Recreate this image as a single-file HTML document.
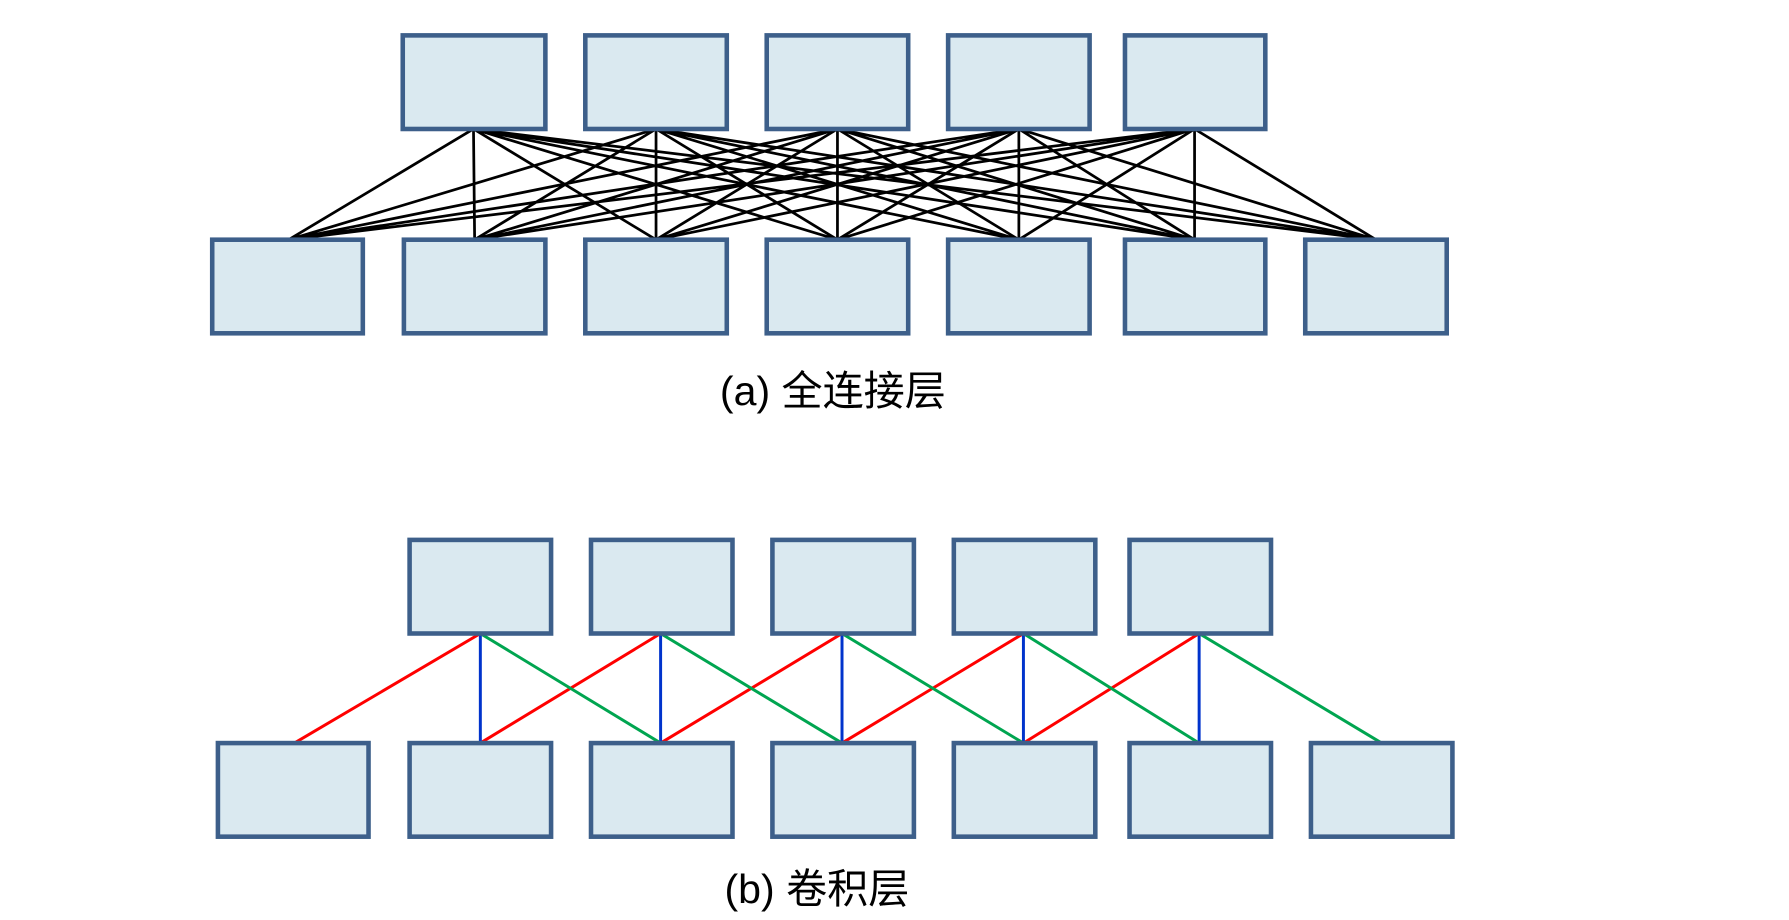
<!DOCTYPE html>
<html><head><meta charset="utf-8"><style>html,body{margin:0;padding:0;background:#fff}svg{display:block}</style></head>
<body>
<svg width="1789" height="920" viewBox="0 0 1568 806" preserveAspectRatio="none" xmlns="http://www.w3.org/2000/svg">
<g stroke="#000" stroke-width="2.4" fill="none">
<!-- full connections -->
<g id="fc">
</g>
</g>
<g stroke="#000" stroke-width="2.4">
<path d="M415 113L253 210M415 113L416 210M415 113L575 210M415 113L734 210M415 113L893 210M415 113L1047 210M415 113L1206 210
M575 113L253 210M575 113L416 210M575 113L575 210M575 113L734 210M575 113L893 210M575 113L1047 210M575 113L1206 210
M734 113L253 210M734 113L416 210M734 113L575 210M734 113L734 210M734 113L893 210M734 113L1047 210M734 113L1206 210
M893 113L253 210M893 113L416 210M893 113L575 210M893 113L734 210M893 113L893 210M893 113L1047 210M893 113L1206 210
M1047 113L253 210M1047 113L416 210M1047 113L575 210M1047 113L734 210M1047 113L893 210M1047 113L1047 210M1047 113L1206 210"/>
</g>
<g fill="#dae9f0" stroke="#3d5f8a" stroke-width="4">
<rect x="353" y="31" width="125" height="82"/>
<rect x="513" y="31" width="124" height="82"/>
<rect x="672" y="31" width="124" height="82"/>
<rect x="831" y="31" width="124" height="82"/>
<rect x="986" y="31" width="123" height="82"/>
<rect x="186" y="210" width="132" height="82"/>
<rect x="354" y="210" width="124" height="82"/>
<rect x="513" y="210" width="124" height="82"/>
<rect x="672" y="210" width="124" height="82"/>
<rect x="831" y="210" width="124" height="82"/>
<rect x="986" y="210" width="123" height="82"/>
<rect x="1144" y="210" width="124" height="82"/>
</g>
<text x="730" y="355" font-family="Liberation Sans, Noto Sans CJK SC, sans-serif" font-size="36" text-anchor="middle" fill="#000">(a) 全连接层</text>

<g stroke-width="2.6" fill="none">
<path stroke="#ff0000" d="M421 555L258 651M579 555L421 651M738 555L579 651M897 555L738 651M1051 555L897 651"/>
<path stroke="#0033cc" d="M421 555L421 651M579 555L579 651M738 555L738 651M897 555L897 651M1051 555L1051 651"/>
<path stroke="#00a550" d="M421 555L579 651M579 555L738 651M738 555L897 651M897 555L1051 651M1051 555L1211 651"/>
</g>
<g fill="#dae9f0" stroke="#3d5f8a" stroke-width="4">
<rect x="359" y="473" width="124" height="82"/>
<rect x="518" y="473" width="124" height="82"/>
<rect x="677" y="473" width="124" height="82"/>
<rect x="836" y="473" width="124" height="82"/>
<rect x="990" y="473" width="124" height="82"/>
<rect x="191" y="651" width="132" height="82"/>
<rect x="359" y="651" width="124" height="82"/>
<rect x="518" y="651" width="124" height="82"/>
<rect x="677" y="651" width="124" height="82"/>
<rect x="836" y="651" width="124" height="82"/>
<rect x="990" y="651" width="124" height="82"/>
<rect x="1149" y="651" width="124" height="82"/>
</g>
<text x="716" y="791" font-family="Liberation Sans, Noto Sans CJK SC, sans-serif" font-size="36" text-anchor="middle" fill="#000">(b) 卷积层</text>
</svg>
</body></html>
